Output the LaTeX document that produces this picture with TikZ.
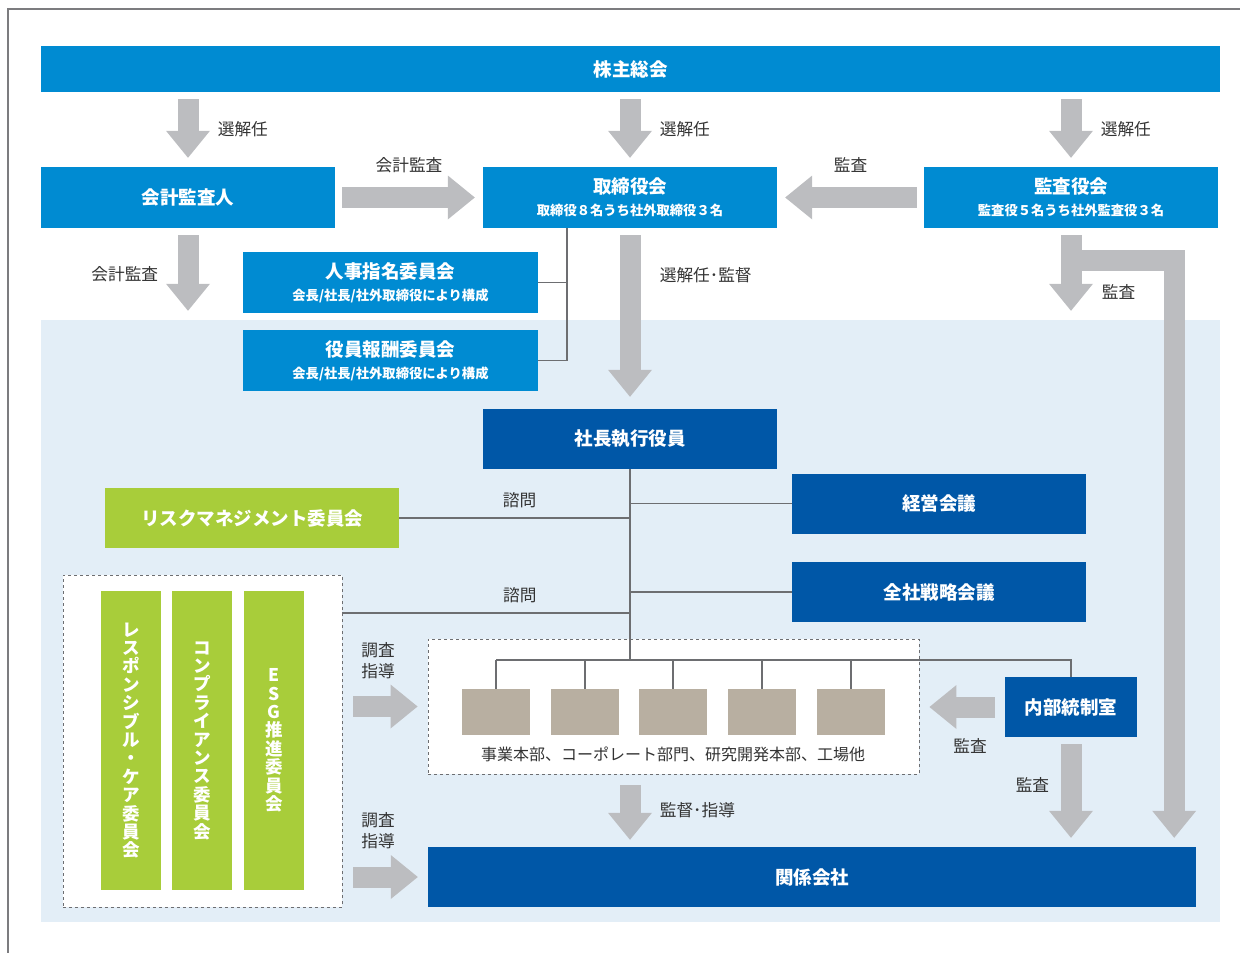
\documentclass[tikz,border=0pt]{standalone}
\usepackage{fontspec}
\setmainfont{Noto Sans CJK JP}
\usepackage{tikz}
\usetikzlibrary{arrows.meta,calc}
\definecolor{bleu}{HTML}{008BD2}
\definecolor{bleufonce}{HTML}{0057A7}
\definecolor{vert}{HTML}{A8CD3A}
\definecolor{gris}{HTML}{BCBDC0}
\definecolor{trait}{HTML}{6D6E71}
\definecolor{fond}{HTML}{E3EEF7}
\definecolor{beige}{HTML}{B8AFA1}
\definecolor{texte}{HTML}{333333}
\newcommand\sous{\fontsize{13.3}{15}\selectfont}

\begin{document}
\begin{tikzpicture}[x=1pt,y=-1pt,
  boite/.style={fill=bleu,text=white,inner sep=0pt,align=center,
    font=\bfseries\fontsize{18.5}{22}\selectfont,minimum width=294pt,minimum height=61pt},
  boitefonce/.style={boite,fill=bleufonce,minimum height=60pt},
  boitevert/.style={boite,fill=vert,minimum height=60pt},
  colonne/.style={boite,fill=vert,minimum width=60pt,minimum height=299pt,
    font=\bfseries\fontsize{17.5}{18.4}\selectfont},
  unite/.style={fill=beige,minimum width=68pt,minimum height=46pt,inner sep=0pt},
  pointille/.style={draw=trait,dashed,fill=white,line width=0.9pt,inner sep=0pt},
  lien/.style={draw=trait,line width=1.8pt},
  lbl/.style={text=texte,font=\fontsize{16.7}{21}\selectfont},
  fleche/.style={draw=gris,line width=21pt,
    -{Triangle[width=44pt,length=27pt,line width=0pt]},shorten <=7pt,shorten >=9pt}]
\useasboundingbox (0,0) rectangle (1240,953);

  % cadre
\draw[trait!90,line width=1.2pt] (8,953) -- (8,9) -- (1240,9);

  % zone executive
\node[fill=fond,minimum width=1179pt,minimum height=602pt,inner sep=0pt] (zone) at (630.5,621) {};
\node[pointille,minimum width=279pt,minimum height=332pt] (csr) at (202.5,741) {};
\node[pointille,minimum width=491pt,minimum height=135pt] (div) at (673.5,706.5) {};

  % gouvernance
\node[boite,minimum width=1179pt,minimum height=46pt] (agm) at (630.5,69) {株主総会};
\node[boite] (auditeur) at (188,197.5) {会計監査人};
\node[boite] (board) at (630,197.5) {取締役会\\{\sous 取締役８名うち社外取締役３名}};
\node[boite] (kansa) at (1071,197.5) {監査役会\\{\sous 監査役５名うち社外監査役３名}};
\node[boite,minimum width=295pt] (nomination) at (390.5,282.5) {人事指名委員会\\{\sous 会長/社長/社外取締役により構成}};
\node[boite,minimum width=295pt] (remuneration) at (390.5,360.5) {役員報酬委員会\\{\sous 会長/社長/社外取締役により構成}};

  % execution
\node[boitefonce] (president) at (630,439) {社長執行役員};
\node[boitefonce] (keiei) at (939,503.5) {経営会議};
\node[boitefonce] (strategie) at (939,592) {全社戦略会議};
\node[boitefonce,minimum width=132pt] (audit) at (1071,707) {内部統制室};
\node[boitefonce,minimum width=768pt] (filiales) at (812,877) {関係会社};
\node[boitevert] (risque) at (252,518) {リスクマネジメント委員会};

  % comites
\node[colonne] (rc) at (131,740.5) {レ\\ス\\ポ\\ン\\シ\\ブ\\ル\\・\\ケ\\ア\\委\\員\\会};
\node[colonne] (conformite) at (202,740.5) {コ\\ン\\プ\\ラ\\イ\\ア\\ン\\ス\\委\\員\\会};
\node[colonne] (esg) at (274,740.5) {E\\S\\G\\推\\進\\委\\員\\会};

  % divisions
\foreach \x [count=\i] in {496,585,673,762,851}
  \node[unite] (u\i) at (\x,712) {};
\node[lbl,font=\fontsize{16}{21}\selectfont] (divlbl) at (673,754) {事業本部、コーポレート部門、研究開発本部、工場他};

  % liens
\coordinate (bj) at (567,228);
\draw[lien] (bj) |- (remuneration.east);
\draw[lien] (nomination.east) -- (nomination.east -| bj);
\coordinate (tronc) at (630,660);
\draw[lien] (president.south) -- (tronc);
\draw[lien] (president.south |- keiei.west) -- (keiei.west);
\draw[lien] (president.south |- strategie.west) -- (strategie.west);
\draw[lien] (risque.east) -- (risque.east -| tronc) node[lbl,midway,above=6pt,xshift=5pt] {諮問};
\coordinate (c2) at (342,613);
\draw[lien] (c2) -- (c2 -| tronc) node[lbl,pos=0.6,above=6pt,xshift=5pt] {諮問};
\draw[lien] (u1.north |- tronc) -- (tronc -| audit.north) -- (audit.north);
\foreach \i in {1,...,5}
  \draw[lien] (u\i.north |- tronc) -- (u\i.north);

  % fleches
\draw[fleche] (agm.south -| auditeur.north) -- (auditeur.north) node[lbl,midway,anchor=west,xshift=16pt] {選解任};
\draw[fleche] (agm.south -| board.north) -- (board.north) node[lbl,midway,anchor=west,xshift=16pt] {選解任};
\draw[fleche] (agm.south -| kansa.north) -- (kansa.north) node[lbl,midway,anchor=west,xshift=16pt] {選解任};
\draw[fleche,shorten >=8pt] (auditeur) -- (board) node[lbl,midway,above=11pt] {会計監査};
\draw[fleche,shorten >=8pt] (kansa) -- (board) node[lbl,midway,above=11pt] {監査};
\draw[fleche] (auditeur) -- (auditeur.south |- zone.north) node[lbl,midway,anchor=east,xshift=-16pt] {会計監査};
\draw[fleche,shorten >=12pt] (board) -- (president) node[lbl,pos=0.26,anchor=west,xshift=16pt] {選解任･監督};
\draw[fleche] (kansa) -- (kansa.south |- zone.north) node[lbl,pos=0.7,anchor=west,xshift=17pt] {監査};
\coordinate (kj) at (1071,260.5);
\draw[fleche,shorten <=0pt] (kj) -| ($(filiales.north east)+(-22,0)$);
\draw[fleche,shorten <=11pt,shorten >=10pt] (csr.east |- div.west) -- (div.west)
  node[lbl,midway,yshift=46pt,xshift=-7pt,align=center] {調査\\指導};
\draw[fleche,shorten <=11pt,shorten >=10pt] (csr.east |- filiales.west) -- (filiales.west)
  node[lbl,midway,yshift=46pt,xshift=-7pt,align=center] {調査\\指導};
\draw[fleche,shorten <=11pt,shorten >=7pt] (div.south -| president.south) -- (president.south |- filiales.north)
  node[lbl,midway,anchor=west,xshift=16pt] {監督･指導};
\draw[fleche,shorten <=10pt,shorten >=10pt] (audit.west) -- (div.east |- audit.west) node[lbl,midway,below=18pt,xshift=8pt] {監査};
\draw[fleche] (audit) -- (audit.south |- filiales.north) node[lbl,pos=0.44,anchor=east,xshift=-8pt] {監査};
\end{tikzpicture}
\end{document}
